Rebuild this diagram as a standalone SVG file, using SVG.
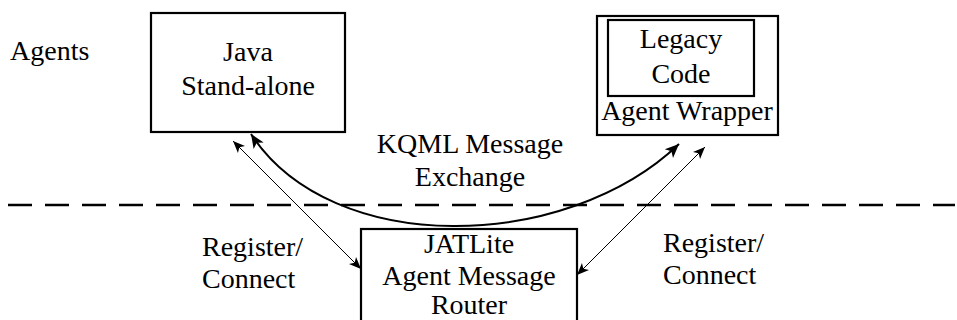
<svg xmlns="http://www.w3.org/2000/svg" width="957" height="320" viewBox="0 0 957 320">
  <style>
    .box { fill: #ffffff; stroke: #000000; stroke-width: 2.2; }
    .lbl { font-family: "Liberation Serif", "Times New Roman", serif; font-size: 28px; fill: #000000; }
    .mid { text-anchor: middle; }
    .thin { fill: none; stroke: #000000; stroke-width: 1; marker-start: url(#head); marker-end: url(#head); }
    .thick { fill: none; stroke: #000000; stroke-width: 2; marker-start: url(#headBig); marker-end: url(#headBig); }
    .sep { fill: none; stroke: #000000; stroke-width: 2.5; stroke-dasharray: 24 13; }
  </style>
  <defs>
    <marker id="head" markerUnits="userSpaceOnUse" viewBox="-1 -6 14 12" refX="12" refY="0" markerWidth="14" markerHeight="12" orient="auto-start-reverse">
      <path d="M0,-5 L12,0 L0,5 L3,0 Z" fill="#000000"/>
    </marker>
    <marker id="headBig" markerUnits="userSpaceOnUse" viewBox="-1 -7 16 14" refX="14" refY="0" markerWidth="16" markerHeight="14" orient="auto-start-reverse">
      <path d="M0,-6 L14,0 L0,6 L3.5,0 Z" fill="#000000"/>
    </marker>
  </defs>

  <!-- layer separator -->
  <line class="sep" x1="8" y1="205" x2="955" y2="205"/>

  <text class="lbl" x="10" y="60">Agents</text>

  <g id="java-standalone">
    <rect class="box" x="151" y="13" width="194" height="119"/>
    <text class="lbl mid" x="248" y="61">Java</text>
    <text class="lbl mid" x="248" y="95">Stand-alone</text>
  </g>

  <g id="agent-wrapper">
    <rect class="box" x="597" y="16" width="181" height="119"/>
    <rect class="box" x="608" y="20" width="146" height="76"/>
    <text class="lbl mid" x="681" y="48">Legacy</text>
    <text class="lbl mid" x="681" y="83">Code</text>
    <text class="lbl mid" x="687" y="120">Agent Wrapper</text>
  </g>

  <g id="jatlite-router">
    <rect class="box" x="361" y="229" width="216" height="100"/>
    <text class="lbl mid" x="469" y="253">JATLite</text>
    <text class="lbl mid" x="469" y="285">Agent Message</text>
    <text class="lbl mid" x="469" y="314">Router</text>
  </g>

  <g id="connectors">
    <path class="thick" d="M251,134 C332,258 566,252 679,144"/>
    <line class="thin" x1="233" y1="141" x2="361" y2="269"/>
    <line class="thin" x1="705" y1="147" x2="577" y2="275"/>
    <text class="lbl mid" x="470" y="153">KQML Message</text>
    <text class="lbl mid" x="470" y="186">Exchange</text>
    <text class="lbl" x="202" y="256">Register/</text>
    <text class="lbl" x="202" y="288">Connect</text>
    <text class="lbl" x="663" y="252">Register/</text>
    <text class="lbl" x="663" y="284">Connect</text>
  </g>
</svg>
